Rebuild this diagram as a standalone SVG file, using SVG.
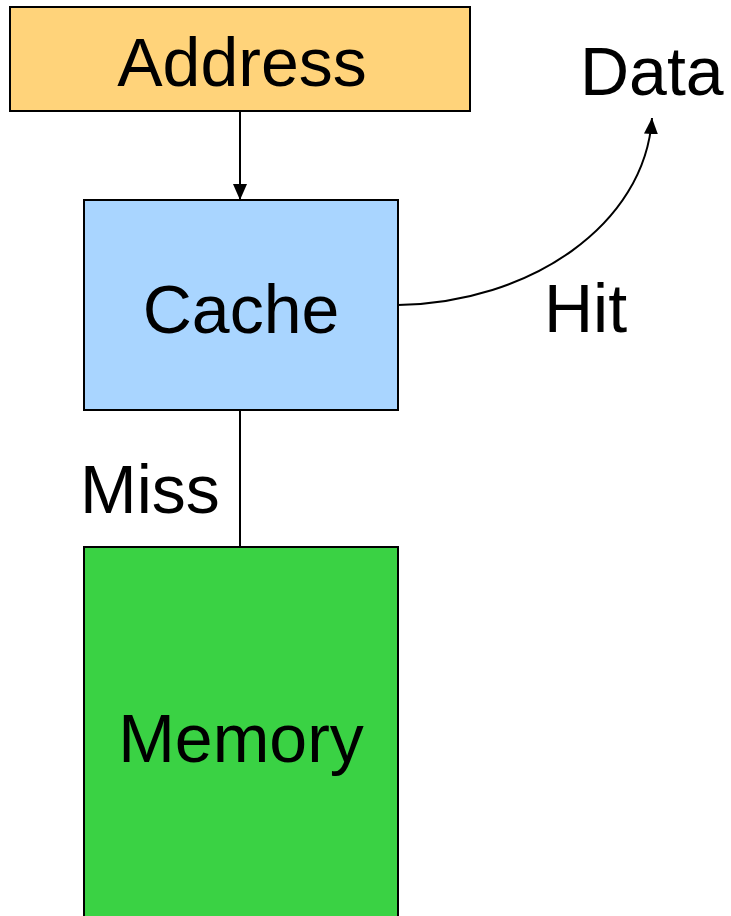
<svg xmlns="http://www.w3.org/2000/svg" width="731" height="916" viewBox="0 0 731 916">
<style>
.box{stroke:#000;stroke-width:2}
.t{font-family:"Liberation Sans",Arial,sans-serif;font-size:68px;fill:#000}
.c{text-anchor:middle}
.ln{stroke:#000;stroke-width:2;fill:none}
</style>
<defs>
<marker id="ah" markerUnits="userSpaceOnUse" markerWidth="16" markerHeight="14" refX="16" refY="7" orient="auto">
<polygon points="0,0 16,7 0,14" fill="#000"/>
</marker>
</defs>
<rect width="731" height="916" fill="#fff"/>
<g id="connectors">
<line class="ln" x1="240" y1="111" x2="240" y2="200" marker-end="url(#ah)"/>
<path class="ln" d="M398,305 C530,303 645,225 652,118" marker-end="url(#ah)"/>
<line class="ln" x1="240" y1="410" x2="240" y2="547"/>
</g>
<g id="address">
<rect class="box" x="10" y="7" width="460" height="104" fill="#FFD37A"/>
<text class="t c" x="242" y="86">Address</text>
</g>
<g id="cache">
<rect class="box" x="84" y="200" width="314" height="210" fill="#A9D5FF"/>
<text class="t c" x="241" y="333">Cache</text>
</g>
<g id="memory">
<rect class="box" x="84" y="547" width="314" height="380" fill="#3AD244"/>
<text class="t c" x="241" y="762">Memory</text>
</g>
<g id="labels">
<text class="t" x="580" y="95">Data</text>
<text class="t" x="544" y="332">Hit</text>
<text class="t" x="80" y="513">Miss</text>
</g>
</svg>
